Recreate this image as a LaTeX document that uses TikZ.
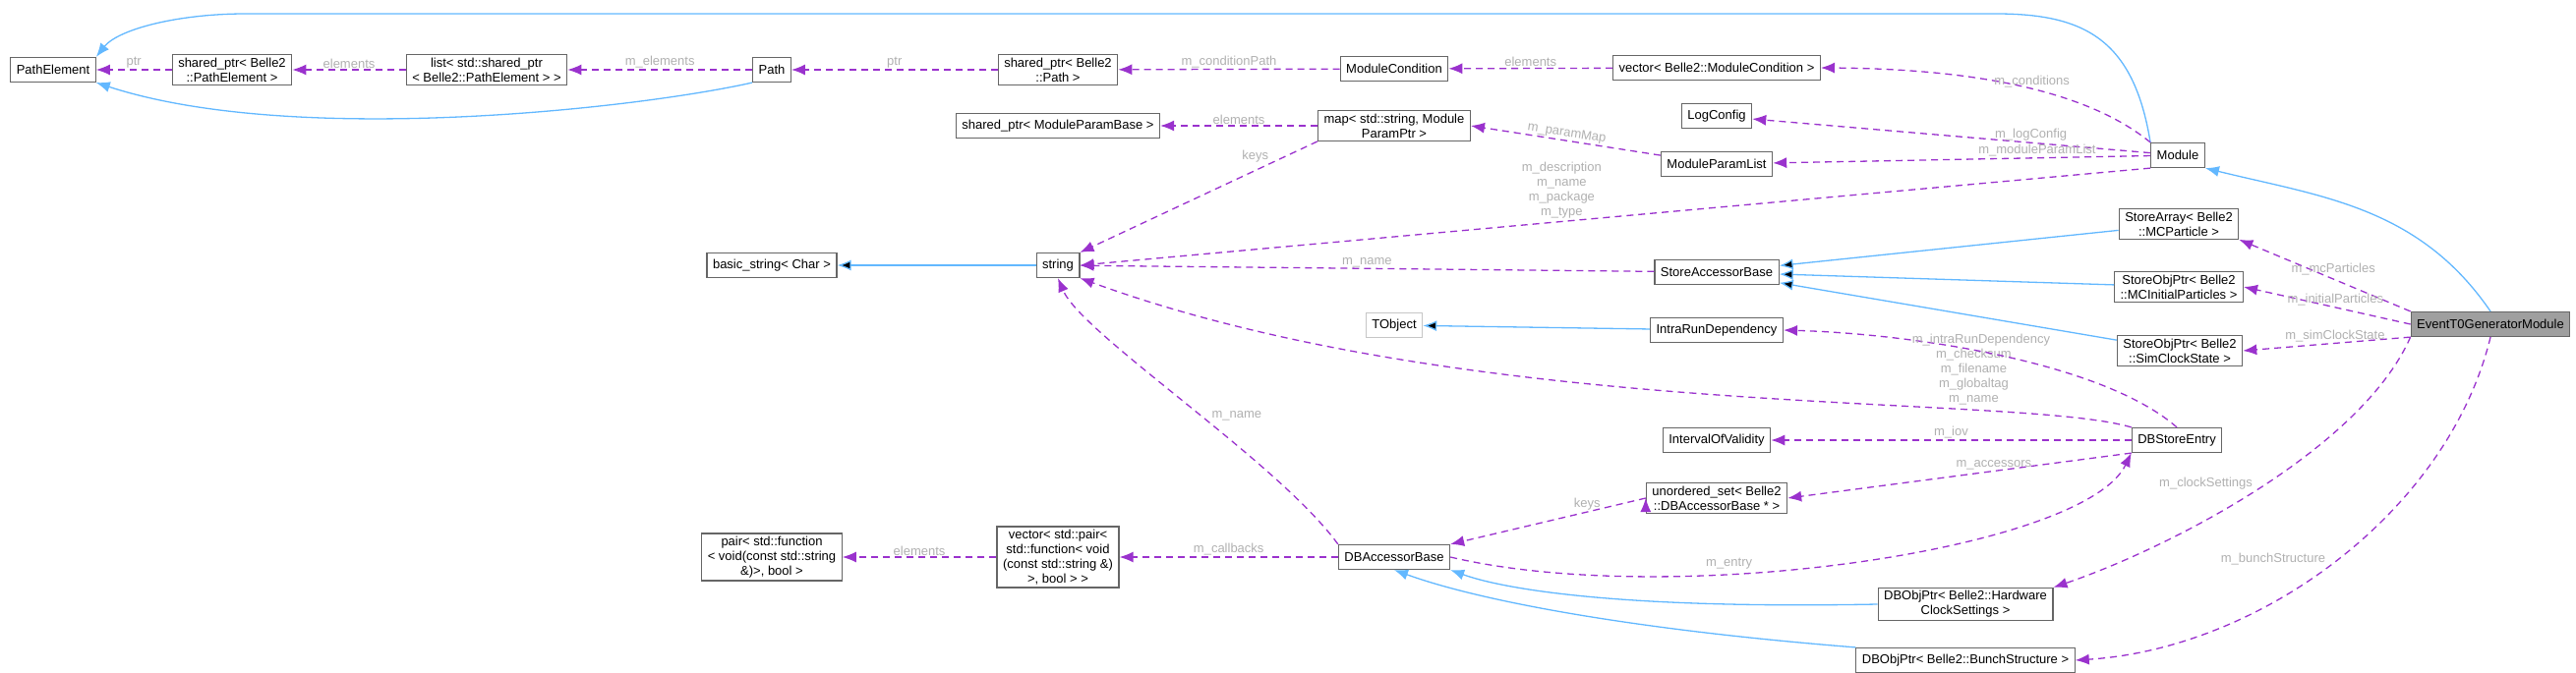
\documentclass[tikz,border=0pt]{standalone}
\usepackage{fontspec}
\setmainfont{Liberation Sans}
\usetikzlibrary{arrows.meta,positioning}
\definecolor{inhblue}{HTML}{63B8FF}
\definecolor{usepurple}{HTML}{9A32CD}
\definecolor{boxgray}{HTML}{666666}
\definecolor{lblgray}{HTML}{B0B0B0}
\begin{document}
\begin{tikzpicture}
	[x=1pt,y=-1pt,font=\fontsize{13}{15}\selectfont,
	cls/.style={shape=rectangle,draw=boxgray,line width=1.2pt,fill=white,align=center,minimum height=25pt,inner xsep=6pt,inner ysep=3pt},
	inh/.style={draw=inhblue,line width=1.3pt,-{Latex[length=14pt,width=11pt]}},
	use/.style={draw=usepurple,line width=1.3pt,dashed,dash pattern=on 7pt off 5pt,-{Latex[length=14pt,width=11pt,fill=usepurple]}},
	lbl/.style={text=lblgray,fill=none,inner sep=1pt,align=center}]
	\useasboundingbox (0,0) rectangle (2620,685);
	\node [cls] (pe) at (54,71) {PathElement};
	\node [cls] (sppe) at (236,71) {shared\_ptr< Belle2\\::PathElement >};
	\node [cls] (lst) at (495,71) {list< std::shared\_ptr\\< Belle2::PathElement > >};
	\node [cls] (path) at (785,71) {Path};
	\node [cls] (sppath) at (1076,71) {shared\_ptr< Belle2\\::Path >};
	\node [cls] (mcond) at (1418,70) {ModuleCondition};
	\node [cls] (vmcond) at (1746,69) {vector< Belle2::ModuleCondition >};
	\node [cls] (logc) at (1746,118) {LogConfig};
	\node [cls] (mpl) at (1746,167) {ModuleParamList};
	\node [cls] (mod) at (2215,158) {Module};
	\node [cls] (spmpb) at (1076,128) {shared\_ptr< ModuleParamBase >};
	\node [cls] (map) at (1418,128) {map< std::string, Module\\ParamPtr >};
	\node [cls] (bstr) at (785,270) {basic\_string< Char >};
	\node [cls] (str) at (1076,270) {string};
	\node [cls] (sab) at (1746,277) {StoreAccessorBase};
	\node [cls] (sarr) at (2216,228) {StoreArray< Belle2\\::MCParticle >};
	\node [cls] (sinit) at (2216,292) {StoreObjPtr< Belle2\\::MCInitialParticles >};
	\node [cls] (sclk) at (2217,357) {StoreObjPtr< Belle2\\::SimClockState >};
	\node [cls,fill=gray!75] (evt) at (2533,330) {EventT0GeneratorModule};
	\node [cls,draw=gray!45] (tobj) at (1418,331) {TObject};
	\node [cls] (ird) at (1746,336) {IntraRunDependency};
	\node [cls] (iov) at (1746,448) {IntervalOfValidity};
	\node [cls] (dbse) at (2214,448) {DBStoreEntry};
	\node [cls] (uset) at (1746,507) {unordered\_set< Belle2\\::DBAccessorBase * >};
	\node [cls] (dbab) at (1418,567) {DBAccessorBase};
	\node [cls] (vpair) at (1076,567) {vector< std::pair<\\std::function< void\\(const std::string \&)\\>, bool > >};
	\node [cls] (pair) at (785,567) {pair< std::function\\< void(const std::string\\\&)>, bool >};
	\node [cls] (hw) at (1999,615) {DBObjPtr< Belle2::Hardware\\ClockSettings >};
	\node [cls] (bunch) at (1999,672) {DBObjPtr< Belle2::BunchStructure >};
	
	% inheritance
	\draw [inh] (mod.north west) .. controls (2170,40) and (2120,14) .. (2030,14) -- (250,14) .. controls (180,14) and (120,30) .. (pe.north east);
	\draw [inh] (path.south west) .. controls (650,110) and (300,150) .. (pe.south east);
	\path [inh]
	(str) edge (bstr)
	(sarr) edge (sab)
	(sinit) edge (sab)
	(sclk) edge (sab)
	(ird) edge (tobj)
	;
	\draw [inh] (evt.north) .. controls (2460,210) and (2360,200) .. (mod.south east);
	\draw [inh] (hw.west) .. controls (1650,620) and (1530,600) .. (dbab.south east);
	\draw [inh] (bunch.north west) .. controls (1650,640) and (1500,610) .. (dbab.south);
	
	% usage
	\path [use]
	(sppe) edge node [lbl,above] {ptr} (pe)
	(lst) edge node [lbl,above] {elements} (sppe)
	(path) edge node [lbl,above] {m\_elements} (lst)
	(sppath) edge node [lbl,above] {ptr} (path)
	(mcond) edge node [lbl,above] {m\_conditionPath} (sppath)
	(vmcond) edge node [lbl,above] {elements} (mcond)
	(map) edge node [lbl,above] {elements} (spmpb)
	(mpl) edge node [lbl,above,sloped] {m\_paramMap} (map.east)
	(map.south west) edge node [lbl,pos=0.2,above left] {keys} (str.north east)
	(sab) edge node [lbl,above] {m\_name} (str)
	(mod) edge node [lbl,above,pos=0.3] {m\_logConfig} (logc)
	(mod) edge node [lbl,above,pos=0.3] {m\_moduleParamList} (mpl)
	(mod.south west) edge node [lbl,pos=0.55,above=2pt] {m\_description\\m\_name\\m\_package\\m\_type} (str.east)
	(evt.north west) edge node [lbl,above=2pt,pos=0.45] {m\_mcParticles} (sarr.south east)
	(evt.west) edge node [lbl,above,pos=0.45] {m\_initialParticles} (sinit.east)
	(evt.south west) edge node [lbl,above,pos=0.45] {m\_simClockState} (sclk.east)
	(dbse) edge node [lbl,above] {m\_iov} (iov)
	(dbse.south west) edge node [lbl,above,pos=0.4] {m\_accessors} (uset.east)
	(uset.west) edge node [lbl,above,pos=0.3] {keys} (dbab.north east)
	(dbab) edge node [lbl,above] {m\_callbacks} (vpair)
	(vpair) edge node [lbl,above] {elements} (pair)
	;
	\draw [use] (mod.north west) .. controls (2120,90) and (2000,70) .. (vmcond.east) node [lbl,pos=0.45,above] {m\_conditions};
	\draw [use] (dbse.north west) .. controls (2050,400) and (1500,430) .. (str.south east) node [lbl,pos=0.25,above=3pt] {m\_checksum\\m\_filename\\m\_globaltag\\m\_name};
	\draw [use] (dbab.north west) .. controls (1300,470) and (1100,340) .. (str.south) node [lbl,pos=0.45,right=8pt] {m\_name};
	\draw [use] (dbse.north) .. controls (2140,370) and (1950,340) .. (ird.east) node [lbl,pos=0.55,above=4pt] {m\_intraRunDependency};
	\draw [use] (dbab.east) .. controls (1700,620) and (2120,560) .. (dbse.south west) node [lbl,pos=0.35,above=3pt] {m\_entry};
	\draw [use] (evt.south west) .. controls (2400,460) and (2200,560) .. (hw.north east) node [lbl,pos=0.5,above left] {m\_clockSettings};
	\draw [use] (evt.south) .. controls (2490,520) and (2300,660) .. (bunch.east) node [lbl,pos=0.5,left=10pt] {m\_bunchStructure};
	
\end{tikzpicture}
\end{document}
